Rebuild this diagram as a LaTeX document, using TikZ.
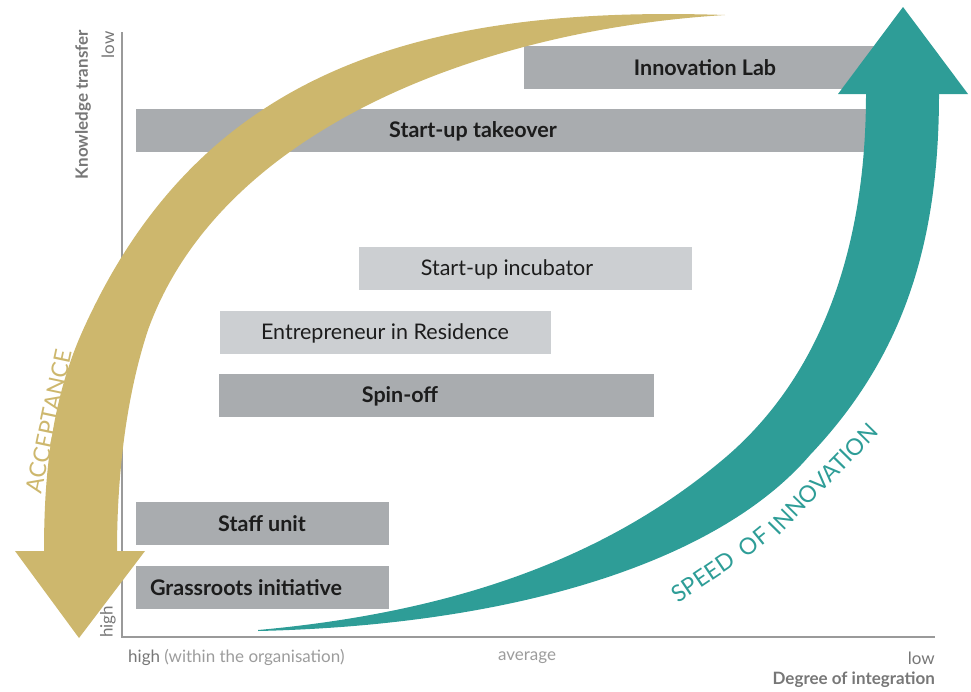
\documentclass[tikz,border=0pt]{standalone}
\usepackage{fontspec}
\setmainfont{Lato}
\definecolor{gold}{HTML}{CDB76D}
\definecolor{tealc}{HTML}{2E9D97}
\definecolor{bardark}{HTML}{A9ACAF}
\definecolor{barlight}{HTML}{CCCFD2}
\definecolor{axisgray}{HTML}{9A9A9A}
\definecolor{labgray}{HTML}{777777}
\definecolor{lightlab}{HTML}{9C9C9C}
\definecolor{ink}{HTML}{1C1C1C}
\begin{document}
\begin{tikzpicture}[x=1pt,y=-1pt,
  darkbar/.style={fill=bardark, draw=none, inner sep=0pt, anchor=north west, minimum height=43pt},
  lightbar/.style={fill=barlight, draw=none, inner sep=0pt, anchor=north west, minimum height=43pt},
  boldlbl/.style={inner sep=0pt, text=ink, font=\fontsize{21.5}{24}\selectfont\bfseries},
  reglbl/.style={inner sep=0pt, text=ink, font=\fontsize{21.5}{24}\selectfont},
  axlbl/.style={inner sep=0pt, text=labgray, font=\fontsize{17}{19}\selectfont},
  axbold/.style={inner sep=0pt, text=labgray, font=\fontsize{17}{19}\selectfont\bfseries},
  arrowlbl/.style={inner sep=0pt, font=\fontsize{23}{25}\selectfont},
  axline/.style={draw=axisgray, line width=1.3pt}]
\useasboundingbox (0,0) rectangle (971,691);

% axes
\coordinate (o) at (122,637);
\coordinate (ytop) at (122,32);
\coordinate (xend) at (935,637);
\draw[axline] (ytop) -- (o) -- (xend);

% bars
\node[darkbar, minimum width=376pt] (labbar) at (524,46) {};
\node[darkbar, minimum width=744pt] (takebar) at (136,109) {};
\node[lightbar, minimum width=333pt] (incbar) at (359,247) {};
\node[lightbar, minimum width=331pt] (eirbar) at (220,311) {};
\node[darkbar, minimum width=435pt] (spinbar) at (219,374) {};
\node[darkbar, minimum width=253pt] (staffbar) at (136,502) {};
\node[darkbar, minimum width=253pt] (grassbar) at (136,566) {};

\node[boldlbl] (lab) at (705,68) {Innovation Lab};
\node[boldlbl] (take) at (473,131) {Start-up takeover};
\node[reglbl] (inc) at (507,269) {Start-up incubator};
\node[reglbl] (eir) at (385,333) {Entrepreneur in Residence};
\node[boldlbl] (spin) at (400,396) {Spin-off};
\node[boldlbl] (staff) at (262,524) {Staff unit};
\node[boldlbl] (grass) at (246,588) {Grassroots initiative};

% gold arrow (acceptance)
\fill[gold] (725,15) .. controls (420,5) and (200,70) .. (83,330)
  .. controls (50,403) and (44,480) .. (44,552)
  -- (117,552) .. controls (117,480) and (125,400) .. (148,330)
  .. controls (220,130) and (480,30) .. (725,15) -- cycle;
\fill[gold] (15,551) -- (145,551) -- (79,638) -- cycle;

% teal arrow (speed of innovation)
\fill[tealc] (258,630) .. controls (480,610) and (620,545) .. (720,462)
  .. controls (820,380) and (866,250) .. (866,94)
  -- (939,94) .. controls (939,250) and (900,360) .. (810,455)
  .. controls (720,560) and (520,625) .. (258,631) -- cycle;
\fill[tealc] (838,94) -- (968,94) -- (903,7) -- cycle;

% arrow labels
\node[arrowlbl, text=gold, rotate=78] (acc) at (49,421) {ACCEPTANCE};
\node[arrowlbl, text=tealc, rotate=34] (speed) at (703,577) {SPEED};
\node[arrowlbl, text=tealc, rotate=39] (of) at (754,542) {OF};
\node[arrowlbl, text=tealc, rotate=45.5] (innov) at (823,479) {INNOVATION};

% axis labels
\node[axlbl, rotate=90, anchor=east] (ylow) at (108,31) {low};
\node[axlbl, rotate=90, anchor=west] (yhigh) at (108,638) {high};
\node[axbold, rotate=90, anchor=east] (ktrans) at (83,30) {Knowledge transfer};
\node[axlbl, anchor=west] (xhigh) at (128,657) {high \textcolor{lightlab}{(within the organisation)}};
\node[axlbl, text=lightlab] (xavg) at (527,658) {average};
\node[axlbl, anchor=east] (xlow) at (935,658) {low};
\node[axbold, anchor=east] (degint) at (935,680) {Degree of integration};
\end{tikzpicture}
\end{document}
